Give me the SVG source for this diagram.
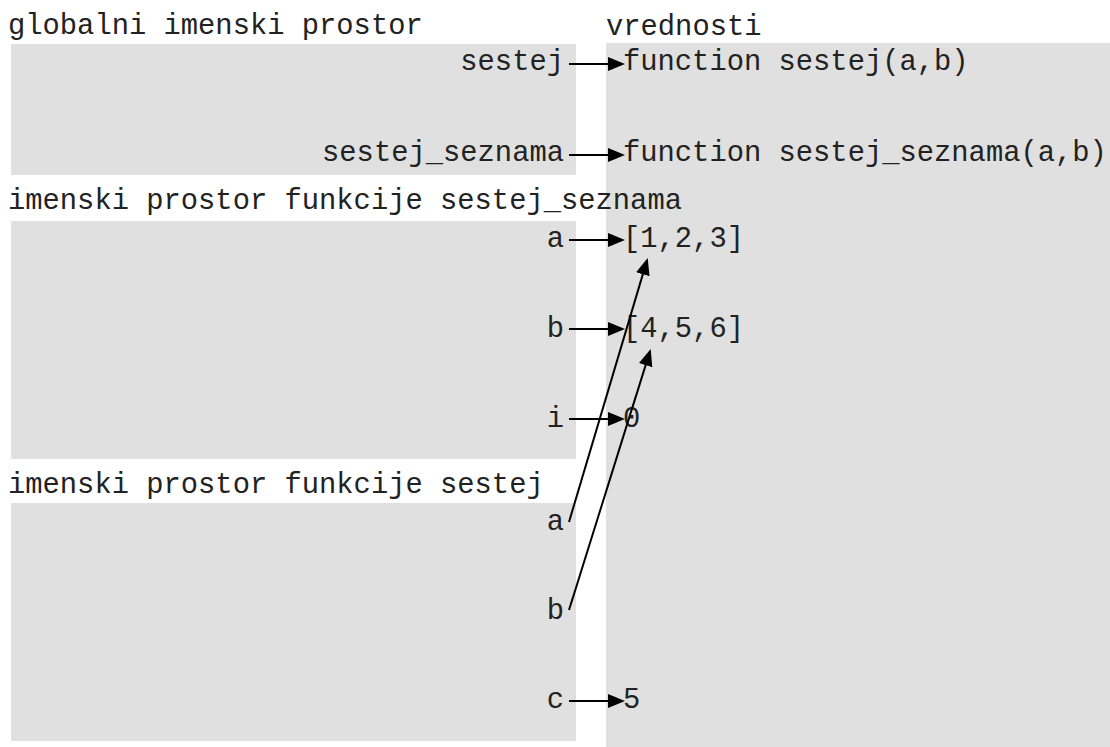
<svg xmlns="http://www.w3.org/2000/svg" width="1110" height="747" viewBox="0 0 1110 747">
<style>
.bg{fill:#ffffff}
.box{fill:#e0e0e0}
.t{font-family:"Liberation Mono","Courier New",monospace;font-size:28.8px;fill:#222}
.n{text-anchor:end}
.c{stroke:#000;stroke-width:2;fill:none}
</style>
<defs>
<marker id="ah" markerUnits="userSpaceOnUse" markerWidth="18" markerHeight="15" refX="9" refY="7" orient="auto">
<path d="M0,0 L17,7 L0,14 z" fill="#000"/>
</marker>
</defs>
<rect class="bg" x="0" y="0" width="1110" height="747"/>
<g id="values">
<rect class="box" x="606" y="43" width="504" height="704"/>
<text class="t" x="606" y="35">vrednosti</text>
<text class="t" x="623" y="70">function sestej(a,b)</text>
<text class="t" x="623" y="161">function sestej_seznama(a,b)</text>
<text class="t" x="623" y="247">[1,2,3]</text>
<text class="t" x="623" y="337">[4,5,6]</text>
<text class="t" x="623" y="427">0</text>
<text class="t" x="623" y="708">5</text>
</g>
<g id="global">
<rect class="box" x="11" y="44" width="565" height="131"/>
<text class="t" x="8" y="34">globalni imenski prostor</text>
<text class="t n" x="564" y="70">sestej</text>
<text class="t n" x="564" y="161">sestej_seznama</text>
</g>
<g id="ns-sestej-seznama">
<rect class="box" x="11" y="221" width="565" height="238"/>
<text class="t" x="8" y="209">imenski prostor funkcije sestej_seznama</text>
<text class="t n" x="564" y="247">a</text>
<text class="t n" x="564" y="337">b</text>
<text class="t n" x="564" y="427">i</text>
</g>
<g id="ns-sestej">
<rect class="box" x="11" y="503" width="565" height="238"/>
<text class="t" x="8" y="493">imenski prostor funkcije sestej</text>
<text class="t n" x="564" y="530">a</text>
<text class="t n" x="564" y="619">b</text>
<text class="t n" x="564" y="708">c</text>
</g>
<g id="connectors">
<line class="c" x1="569" y1="64" x2="617" y2="64" marker-end="url(#ah)"/>
<line class="c" x1="569" y1="155" x2="617" y2="155" marker-end="url(#ah)"/>
<line class="c" x1="569" y1="240" x2="617" y2="240" marker-end="url(#ah)"/>
<line class="c" x1="569" y1="329" x2="617" y2="329" marker-end="url(#ah)"/>
<line class="c" x1="569" y1="419" x2="617" y2="419" marker-end="url(#ah)"/>
<line class="c" x1="569" y1="701" x2="617" y2="701" marker-end="url(#ah)"/>
<line class="c" x1="569" y1="522" x2="645.4" y2="265.6" marker-end="url(#ah)"/>
<line class="c" x1="569" y1="610" x2="648.3" y2="356.6" marker-end="url(#ah)"/>
</g>
</svg>
